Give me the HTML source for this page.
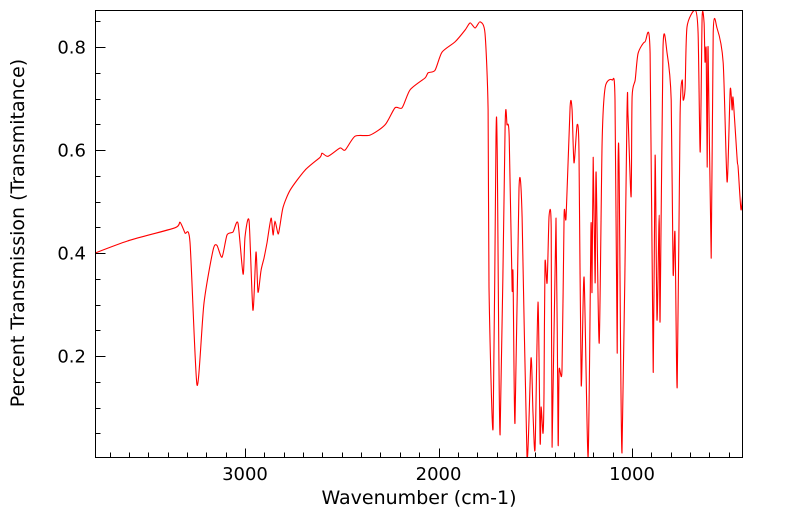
<!DOCTYPE html>
<html><head><meta charset="utf-8"><style>
html,body{margin:0;padding:0;background:#fff;}
svg{display:block;font-family:"DejaVu Sans","Liberation Sans",sans-serif;}
</style></head><body>
<svg id="chart" width="799" height="516" viewBox="0 0 799 516" xmlns="http://www.w3.org/2000/svg">
<defs><clipPath id="clip"><rect x="95" y="10" width="647" height="447"/></clipPath></defs>
<g id="ticks"></g>
<g id="labels"></g>
<path id="line" clip-path="url(#clip)" fill="none" stroke="#ff0000" stroke-width="1.1" stroke-linejoin="round"></path>
<rect x="95.5" y="10.5" width="647" height="447" fill="none" stroke="#000" stroke-width="1"></rect>
<text x="419" y="504" font-size="19" text-anchor="middle">Wavenumber (cm-1)</text>
<text transform="translate(24,233) rotate(-90)" font-size="19" text-anchor="middle">Percent Transmission (Transmitance)</text>
</svg>
<script>
const wavenumbers=[3775,3594,3362,3336,3310,3284,3248,3212,3165,3145,3119,3093,3062,3036,3010,3000,2979,2959,2943,2933,2917,2902,2886,2865,2855,2845,2829,2819,2803,2767,2690,2612,2602,2571,2509,2483,2431,2354,2276,2225,2188,2147,2070,2054,2018,1982,1915,1863,1837,1811,1785,1760,1744,1739,1718,1703,1697,1682,1656,1646,1635,1620,1615,1605,1584,1568,1543,1522,1512,1501,1486,1475,1470,1460,1455,1450,1439,1429,1418,1413,1393,1382,1377,1362,1351,1341,1320,1310,1300,1284,1274,1263,1248,1227,1212,1207,1201,1191,1186,1170,1155,1139,1103,1088,1077,1072,1067,1052,1026,1021,1005,1000,984,969,933,907,891,881,871,860,855,840,819,798,788,778,767,752,741,736,726,716,674,659,648,638,628,623,617,612,607,591,581,561,529,509,493,483,478,457,452,437,426];
const transmission=[0.400,0.425,0.449,0.460,0.439,0.421,0.144,0.303,0.406,0.415,0.392,0.435,0.441,0.458,0.359,0.431,0.462,0.289,0.402,0.324,0.367,0.390,0.421,0.468,0.435,0.462,0.437,0.454,0.489,0.522,0.561,0.586,0.594,0.588,0.604,0.600,0.627,0.629,0.649,0.682,0.682,0.717,0.740,0.750,0.755,0.790,0.810,0.833,0.847,0.837,0.849,0.827,0.678,0.334,0.060,0.625,0.600,0.047,0.645,0.649,0.625,0.332,0.361,0.070,0.526,0.470,0.004,0.196,0.089,0.021,0.305,0.033,0.101,0.050,0.128,0.381,0.342,0.470,0.450,0.023,0.468,0.031,0.173,0.173,0.474,0.470,0.684,0.678,0.575,0.649,0.594,0.144,0.353,0.004,0.454,0.324,0.586,0.342,0.557,0.225,0.614,0.722,0.736,0.697,0.206,0.577,0.567,0.012,0.674,0.668,0.509,0.703,0.736,0.788,0.810,0.788,0.169,0.590,0.270,0.474,0.270,0.798,0.788,0.697,0.361,0.439,0.140,0.668,0.736,0.697,0.720,0.839,0.872,0.827,0.596,0.856,0.847,0.771,0.794,0.567,0.800,0.390,0.827,0.837,0.769,0.538,0.717,0.678,0.701,0.581,0.567,0.484,0.528];
const xTickLabels=[3000,2000,1000];
const yTickLabels=[0.2,0.4,0.6,0.8];

const L=95,R=742,T=10,B=457;
const xMax=3775,xMin=432,yMin=0.004,yMax=0.872;
function sx(w){return L+(xMax-w)/(xMax-xMin)*(R-L);}
function sy(v){return B-(v-yMin)/(yMax-yMin)*(B-T);}
const NS="http://www.w3.org/2000/svg";
const pts=wavenumbers.map((w,i)=>[sx(w),sy(transmission[i])]);
let d="M"+pts[0][0].toFixed(1)+","+pts[0][1].toFixed(1);
const k=0.12;
for(let i=0;i<pts.length-1;i++){
  const p0=pts[Math.max(0,i-1)],p1=pts[i],p2=pts[i+1],p3=pts[Math.min(pts.length-1,i+2)];
  const c1x=p1[0]+(p2[0]-p0[0])*k,c1y=p1[1]+(p2[1]-p0[1])*k;
  const c2x=p2[0]-(p3[0]-p1[0])*k,c2y=p2[1]-(p3[1]-p1[1])*k;
  d+="C"+c1x.toFixed(1)+","+c1y.toFixed(1)+" "+c2x.toFixed(1)+","+c2y.toFixed(1)+" "+p2[0].toFixed(1)+","+p2[1].toFixed(1);
}
document.getElementById("line").setAttribute("d",d);
const tg=document.getElementById("ticks"),lg=document.getElementById("labels");
function tick(x1,y1,x2,y2){
  const l=document.createElementNS(NS,"line");
  l.setAttribute("x1",x1);l.setAttribute("y1",y1);l.setAttribute("x2",x2);l.setAttribute("y2",y2);
  l.setAttribute("stroke","#000");l.setAttribute("stroke-width","1");
  
  
  tg.appendChild(l);
}
for(let w=500;w<=3700;w+=100){
  const x=Math.round(sx(w))+0.5,len=(w%1000===0)?9:5;
  tick(x,B+0.5,x,B+0.5-len);
}
for(let j=1;j<=17;j++){
  const v=j*0.05;if(v>yMax)break;
  const y=Math.round(sy(v))+0.5,len=(j%4===0)?10:5;
  tick(L+0.5,y,L+0.5+len,y);
}
xTickLabels.forEach(w=>{
  const t=document.createElementNS(NS,"text");
  t.setAttribute("x",sx(w));t.setAttribute("y",B+23);t.setAttribute("font-size","18");t.setAttribute("text-anchor","middle");
  t.textContent=String(w);
  
  
  lg.appendChild(t);
});
yTickLabels.forEach(v=>{
  const t=document.createElementNS(NS,"text");
  t.setAttribute("x",L-9);t.setAttribute("y",sy(v)+6.5);t.setAttribute("font-size","18");t.setAttribute("text-anchor","end");
  t.textContent=v.toFixed(1);
  
  
  lg.appendChild(t);
});
</script>
</body></html>
